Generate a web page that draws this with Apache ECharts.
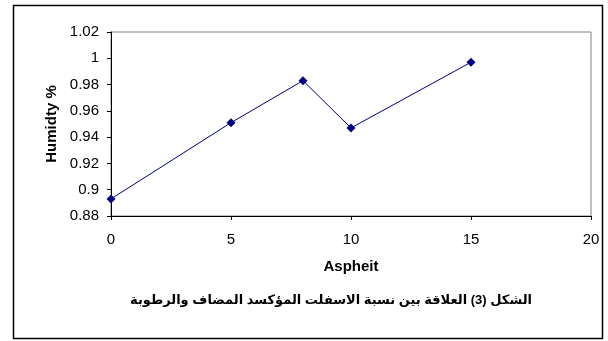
<!DOCTYPE html>
<html>
<head>
<meta charset="utf-8">
<script src="https://cdn.jsdelivr.net/npm/echarts@6/dist/echarts.min.js"></script>
<style>
  html, body { margin: 0; padding: 0; background: #fff; }
  #chart { width: 608px; height: 341px; }
</style>
</head>
<body>
<div id="chart"></div>
<script>
// Asphalt content added (x) against humidity (y)
const asphaltValues = [0, 5, 8, 10, 15];
const humidityValues = [0.893, 0.951, 0.983, 0.947, 0.997];
const xTicks = { min: 0, max: 20, step: 5 };
const yTicks = { min: 0.88, max: 1.02, step: 0.02 };
const xAxisTitle = 'Aspheit';
const yAxisTitle = 'Humidty %';
const captionText = 'الشكل (3) العلاقة بين نسبة الاسفلت المؤكسد المضاف والرطوبة';

const points = asphaltValues.map((x, i) => [x, humidityValues[i]]);

const chart = echarts.init(document.getElementById('chart'), null, { renderer: 'canvas' });
const fontFam = '"Liberation Sans", Arial, "DejaVu Sans", sans-serif';

chart.setOption({
  animation: false,
  backgroundColor: '#ffffff',
  grid: {
    left: 111, top: 32, width: 480, height: 184,
    show: true, borderColor: '#808080', borderWidth: 1, backgroundColor: 'transparent'
  },
  xAxis: {
    type: 'value',
    min: xTicks.min, max: xTicks.max, interval: xTicks.step,
    name: xAxisTitle,
    nameLocation: 'middle',
    nameGap: 43,
    nameTextStyle: { fontFamily: fontFam, fontWeight: 'bold', fontSize: 15, color: '#000' },
    axisLine: { show: true, onZero: false, lineStyle: { color: '#000', width: 1 } },
    axisTick: { show: true, inside: false, length: 4, lineStyle: { color: '#000' } },
    axisLabel: { margin: 16, fontFamily: fontFam, fontSize: 15, color: '#000' },
    splitLine: { show: false }
  },
  yAxis: {
    type: 'value',
    min: yTicks.min, max: yTicks.max, interval: yTicks.step,
    name: yAxisTitle,
    nameLocation: 'middle',
    nameGap: 52,
    nameRotate: 90,
    nameTextStyle: { fontFamily: fontFam, fontWeight: 'bold', fontSize: 15, color: '#000' },
    axisLine: { show: true, onZero: false, lineStyle: { color: '#000', width: 1 } },
    axisTick: { show: true, inside: false, length: 4, lineStyle: { color: '#000' } },
    axisLabel: {
      margin: 12, fontFamily: fontFam, fontSize: 15, color: '#000',
      formatter: v => String(parseFloat(v.toFixed(2)))
    },
    splitLine: { show: false }
  },
  series: [{
    type: 'line',
    data: points,
    symbol: 'diamond',
    symbolSize: 9,
    itemStyle: { color: '#000080' },
    lineStyle: { color: '#000080', width: 1 }
  }],
  graphic: [
    {
      type: 'rect',
      shape: { x: 13.5, y: 5.5, width: 589, height: 333 },
      style: { fill: 'none', stroke: '#000', lineWidth: 1.5 },
      z: -1
    },
    {
      type: 'text',
      x: 331, y: 300,
      style: {
        text: captionText,
        fontFamily: fontFam, fontWeight: 'bold', fontSize: 13, fill: '#000',
        align: 'center', verticalAlign: 'middle'
      }
    }
  ]
});
</script>
</body>
</html>
